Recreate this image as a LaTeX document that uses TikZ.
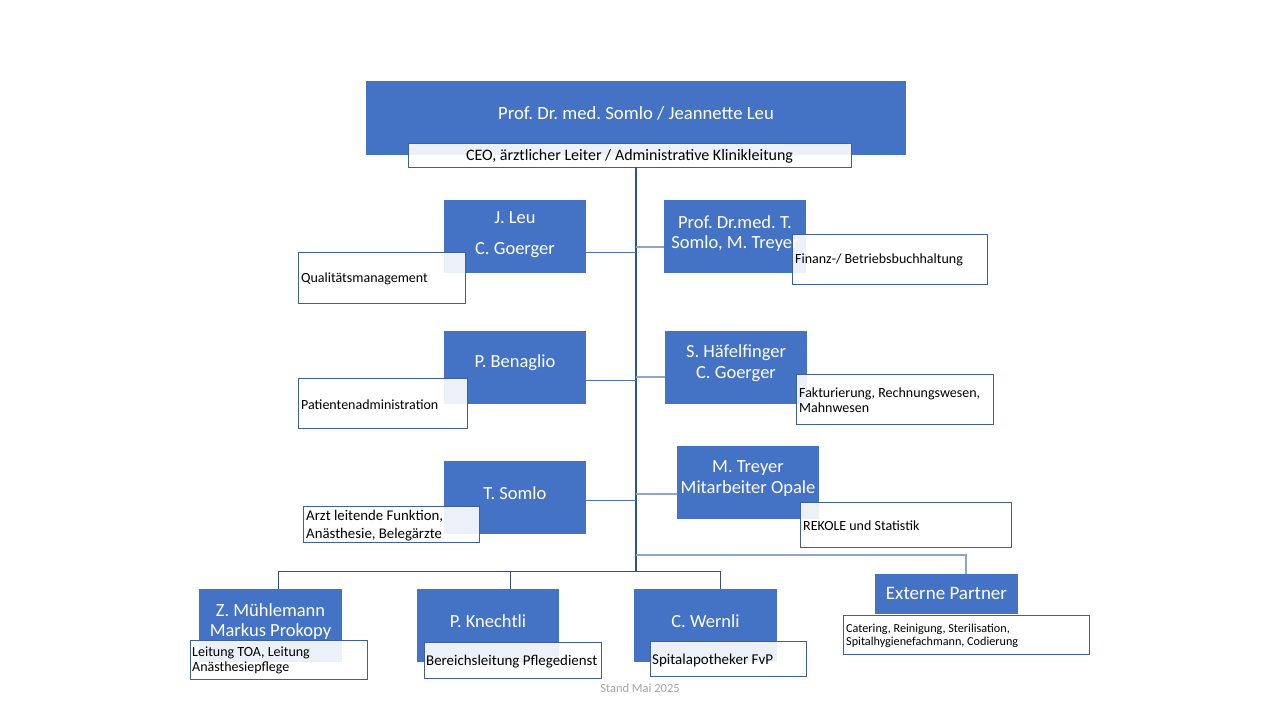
\documentclass[tikz,border=0pt]{standalone}
\usepackage{fontspec}
\setmainfont{Carlito}
\frenchspacing
\definecolor{obox}{HTML}{4472C4}
\definecolor{odark}{HTML}{2F528F}
\definecolor{oedge}{HTML}{3F5F9C}
\definecolor{olight}{HTML}{8EA5CE}
\definecolor{oleft}{HTML}{4D70AE}
\definecolor{ogray}{HTML}{A6A6A6}
\tikzset{
  bluebox/.style={fill=obox, anchor=north west, inner sep=0pt, minimum width=142pt, minimum height=73pt},
  descbox/.style={draw=oedge, line width=0.8pt, fill=white, fill opacity=0.9, anchor=north west, inner sep=0pt},
  btext/.style={text=white, inner sep=0pt, align=center, yshift=-2pt, font=\fontsize{18.5}{20}\selectfont},
  dtext/.style={text=black, inner sep=0pt, align=left, anchor=west, yshift=-2pt, font=\fontsize{14}{15}\selectfont},
  trunk/.style={draw=odark, line width=2pt},
  rbranch/.style={draw=olight, line width=1.6pt},
  lbranch/.style={draw=oleft, line width=1pt},
  bline/.style={draw=odark, line width=1pt},
}
\begin{document}
\begin{tikzpicture}[x=1pt,y=-1pt]
\useasboundingbox[fill=white] (0,0) rectangle (1280,720);

% top
\node[bluebox, minimum width=540pt, minimum height=74pt] (top) at (366,81) {};
\node[btext, font=\fontsize{18.7}{20}\selectfont] (topt) at (636,111) {Prof. Dr. med. Somlo / Jeannette Leu};
\node[descbox, minimum width=443pt, minimum height=24pt] (sub) at (408,143) {};
\node[dtext, anchor=center, font=\fontsize{16}{17}\selectfont] (subt) at (629.5,154) {CEO, ärztlicher Leiter / Administrative Klinikleitung};

\coordinate (tt) at (636,167);
\coordinate (tb) at (636,571);

% left column
\node[bluebox] (jl) at (444,200) {};
\node[btext, font=\fontsize{18.5}{31}\selectfont] (jlt) at (515,232.5) {J. Leu\\C. Goerger};
\node[descbox, minimum width=167pt, minimum height=51pt] (qm) at (298,252) {};
\node[dtext] (qmt) at (301,277) {Qualitätsmanagement};

\node[bluebox] (pb) at (444,331) {};
\node[btext] (pbt) at (515,361) {P. Benaglio};
\node[descbox, minimum width=169pt, minimum height=50pt] (pa) at (298,378) {};
\node[dtext] (pat) at (301,403) {Patientenadministration};

\node[bluebox] (ts) at (444,461) {};
\node[btext] (tst) at (515,491) {T. Somlo};
\node[descbox, minimum width=176pt, minimum height=36pt] (az) at (303,506) {};
\node[dtext, font=\fontsize{14.8}{18}\selectfont] (azt) at (306,524) {Arzt leitende Funktion,\\Anästhesie, Belegärzte};

% right column
\node[bluebox] (st) at (664,200) {};
\node[btext] (stt) at (735,232) {Prof. Dr.med. T.\\Somlo, M. Treyer};
\node[descbox, minimum width=195pt, minimum height=50pt] (fb) at (792,234) {};
\node[dtext] (fbt) at (795,258) {Finanz-/ Betriebsbuchhaltung};

\node[bluebox] (sh) at (665,331) {};
\node[btext, font=\fontsize{18.5}{21}\selectfont] (sht) at (736,361.5) {S. Häfelfinger\\C. Goerger};
\node[descbox, minimum width=197pt, minimum height=50pt] (fk) at (796,374) {};
\node[dtext] (fkt) at (799,398.5) {Fakturierung, Rechnungswesen,\\Mahnwesen};

\node[bluebox] (mt) at (677,446) {};
\node[btext, font=\fontsize{18.5}{21}\selectfont] (mtt) at (748,476.5) {M. Treyer\\Mitarbeiter Opale};
\node[descbox, minimum width=211pt, minimum height=45pt] (rk) at (800,502) {};
\node[dtext] (rkt) at (803,524) {REKOLE und Statistik};

% externe
\node[bluebox, minimum width=143pt, minimum height=40pt] (ep) at (875,574) {};
\node[btext, font=\fontsize{19}{20}\selectfont] (ept) at (946.5,591) {Externe Partner};
\node[descbox, minimum width=246pt, minimum height=39pt] (ct) at (843,615) {};
\node[dtext, font=\fontsize{12.2}{13.3}\selectfont] (ctt) at (846,633.5) {Catering, Reinigung, Sterilisation,\\Spitalhygienefachmann, Codierung};

% bottom row
\node[bluebox, minimum width=143pt] (mu) at (199,589) {};
\node[btext] (mut) at (270.5,620) {Z. Mühlemann\\Markus Prokopy};
\node[descbox, minimum width=177pt, minimum height=39pt] (lt) at (190,640) {};
\node[dtext] (ltt) at (192,658.5) {Leitung TOA, Leitung\\Anästhesiepflege};

\node[bluebox] (kn) at (417,589) {};
\node[btext] (knt) at (488,619) {P. Knechtli};
\node[descbox, minimum width=177pt, minimum height=36pt] (bl) at (424,642) {};
\node[dtext, font=\fontsize{14.9}{15}\selectfont] (blt) at (426,660) {Bereichsleitung Pflegedienst};

\node[bluebox, minimum width=143pt] (we) at (634,589) {};
\node[btext] (wet) at (705.5,619) {C. Wernli};
\node[descbox, minimum width=156pt, minimum height=35pt] (sp) at (650,641) {};
\node[dtext, font=\fontsize{15}{15}\selectfont] (spt) at (652,658) {Spitalapotheker FvP};

\node[text=ogray, inner sep=0pt, yshift=-1pt, font=\fontsize{12.5}{13}\selectfont] (stand) at (640,687) {Stand Mai 2025};

% connectors
\path[trunk] (tt) -- (tb);
\path[lbranch] (jl.east |- 0,252) -- (tt |- 0,252);
\path[lbranch] (pb.east |- 0,380) -- (tt |- 0,380);
\path[lbranch] (ts.east |- 0,500) -- (tt |- 0,500);
\path[rbranch] (tt |- 0,247) -- (st.west |- 0,247);
\path[rbranch] (tt |- 0,377) -- (sh.west |- 0,377);
\path[rbranch] (tt |- 0,494) -- (mt.west |- 0,494);
\path[rbranch, line width=1.2pt] (tt |- 0,555) -| (966,0 |- ep.north);

\coordinate (hl) at (278,571);
\coordinate (hr) at (720,571);
\path[bline] (hl) -- (hr);
\path[bline] (hl) -- (hl |- mu.north);
\path[bline] (510,571) -- (510,0 |- kn.north);
\path[bline] (hr) -- (hr |- we.north);
\end{tikzpicture}
\end{document}
